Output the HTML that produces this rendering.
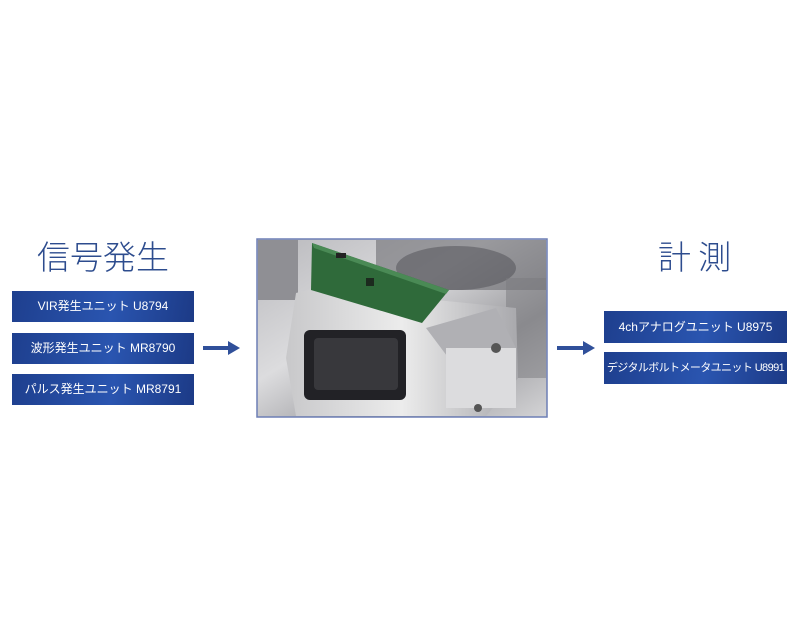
<!DOCTYPE html>
<html><head><meta charset="utf-8"><style>
body{margin:0;width:800px;height:640px;background:#fff;position:relative;font-family:"Liberation Sans","Noto Sans CJK JP",sans-serif;overflow:hidden}
.t{position:absolute;color:#2d4c8e;font-family:"Noto Sans CJK JP",sans-serif;font-weight:300;font-size:33px;line-height:1;letter-spacing:0px}
.b{position:absolute;height:31px;color:#fff;font-size:12px;text-align:center;line-height:31px;white-space:nowrap;background:linear-gradient(100deg,#1e3f8e 0%,#2a55b0 55%,#1c3a86 100%);font-family:"Liberation Sans","Noto Sans CJK JP",sans-serif}
.ar{position:absolute;height:4px;background:#30509a}
.ar:after{content:"";position:absolute;right:-10px;top:-5px;border-left:12px solid #30509a;border-top:7px solid transparent;border-bottom:7px solid transparent}
</style></head><body>
<div class="t" style="left:37px;top:239px">信号発生</div>
<div class="t" style="left:658px;top:239px">計 測</div>
<div class="b" style="left:12px;top:291px;width:182px">VIR発生ユニット U8794</div>
<div class="b" style="left:12px;top:333px;width:182px">波形発生ユニット MR8790</div>
<div class="b" style="left:12px;top:374px;width:182px">パルス発生ユニット MR8791</div>
<div class="b" style="left:604px;top:311px;width:183px;height:32px;line-height:32px">4chアナログユニット U8975</div>
<div class="b" style="left:604px;top:352px;width:183px;height:32px;line-height:32px;font-size:11px;letter-spacing:-0.6px">デジタルボルトメータユニット U8991</div>
<div class="ar" style="left:203px;top:346px;width:27px"></div>
<div class="ar" style="left:557px;top:346px;width:28px"></div>
<svg style="position:absolute;left:256px;top:238px" width="292" height="180" viewBox="0 0 292 180">
<defs><linearGradient id="g" x1="0" y1="0" x2="1" y2="1"><stop offset="0" stop-color="#b8b8bc"/><stop offset=".4" stop-color="#dcdcde"/><stop offset=".7" stop-color="#9a9a9e"/><stop offset="1" stop-color="#d4d4d6"/></linearGradient>
<linearGradient id="m" x1="0" y1="0" x2="1" y2="0"><stop offset="0" stop-color="#c8c8ca"/><stop offset=".5" stop-color="#ececec"/><stop offset="1" stop-color="#a8a8ac"/></linearGradient></defs>
<rect x="1" y="1" width="290" height="178" fill="url(#g)" stroke="#6d7fb5" stroke-width="1.5"/>
<rect x="2" y="2" width="40" height="60" fill="#8f8f94"/>
<rect x="120" y="2" width="170" height="50" fill="#6d6d72" opacity=".6"/>
<ellipse cx="200" cy="30" rx="60" ry="22" fill="#4e4e53" opacity=".5"/>
<rect x="250" y="40" width="40" height="100" fill="#7a7a7e" opacity=".5"/>
<polygon points="40,55 60,50 260,70 262,140 230,178 40,178 30,120" fill="url(#m)"/>
<polygon points="56,5 193,52 166,85 55,52" fill="#2f6a3a"/>
<polygon points="56,5 193,52 190,56 58,10" fill="#4a8a55"/>
<rect x="110" y="40" width="8" height="8" fill="#1c2a1e"/>
<rect x="80" y="15" width="10" height="5" fill="#222"/>
<polygon points="170,90 240,70 260,110 200,130" fill="#b0b0b4"/>
<rect x="48" y="92" width="102" height="70" rx="6" fill="#222226"/>
<rect x="58" y="100" width="84" height="52" rx="4" fill="#38383c"/>
<rect x="190" y="110" width="70" height="60" fill="#dcdcde"/>
<circle cx="240" cy="110" r="5" fill="#555"/><circle cx="222" cy="170" r="4" fill="#555"/>
</svg>
</body></html>
